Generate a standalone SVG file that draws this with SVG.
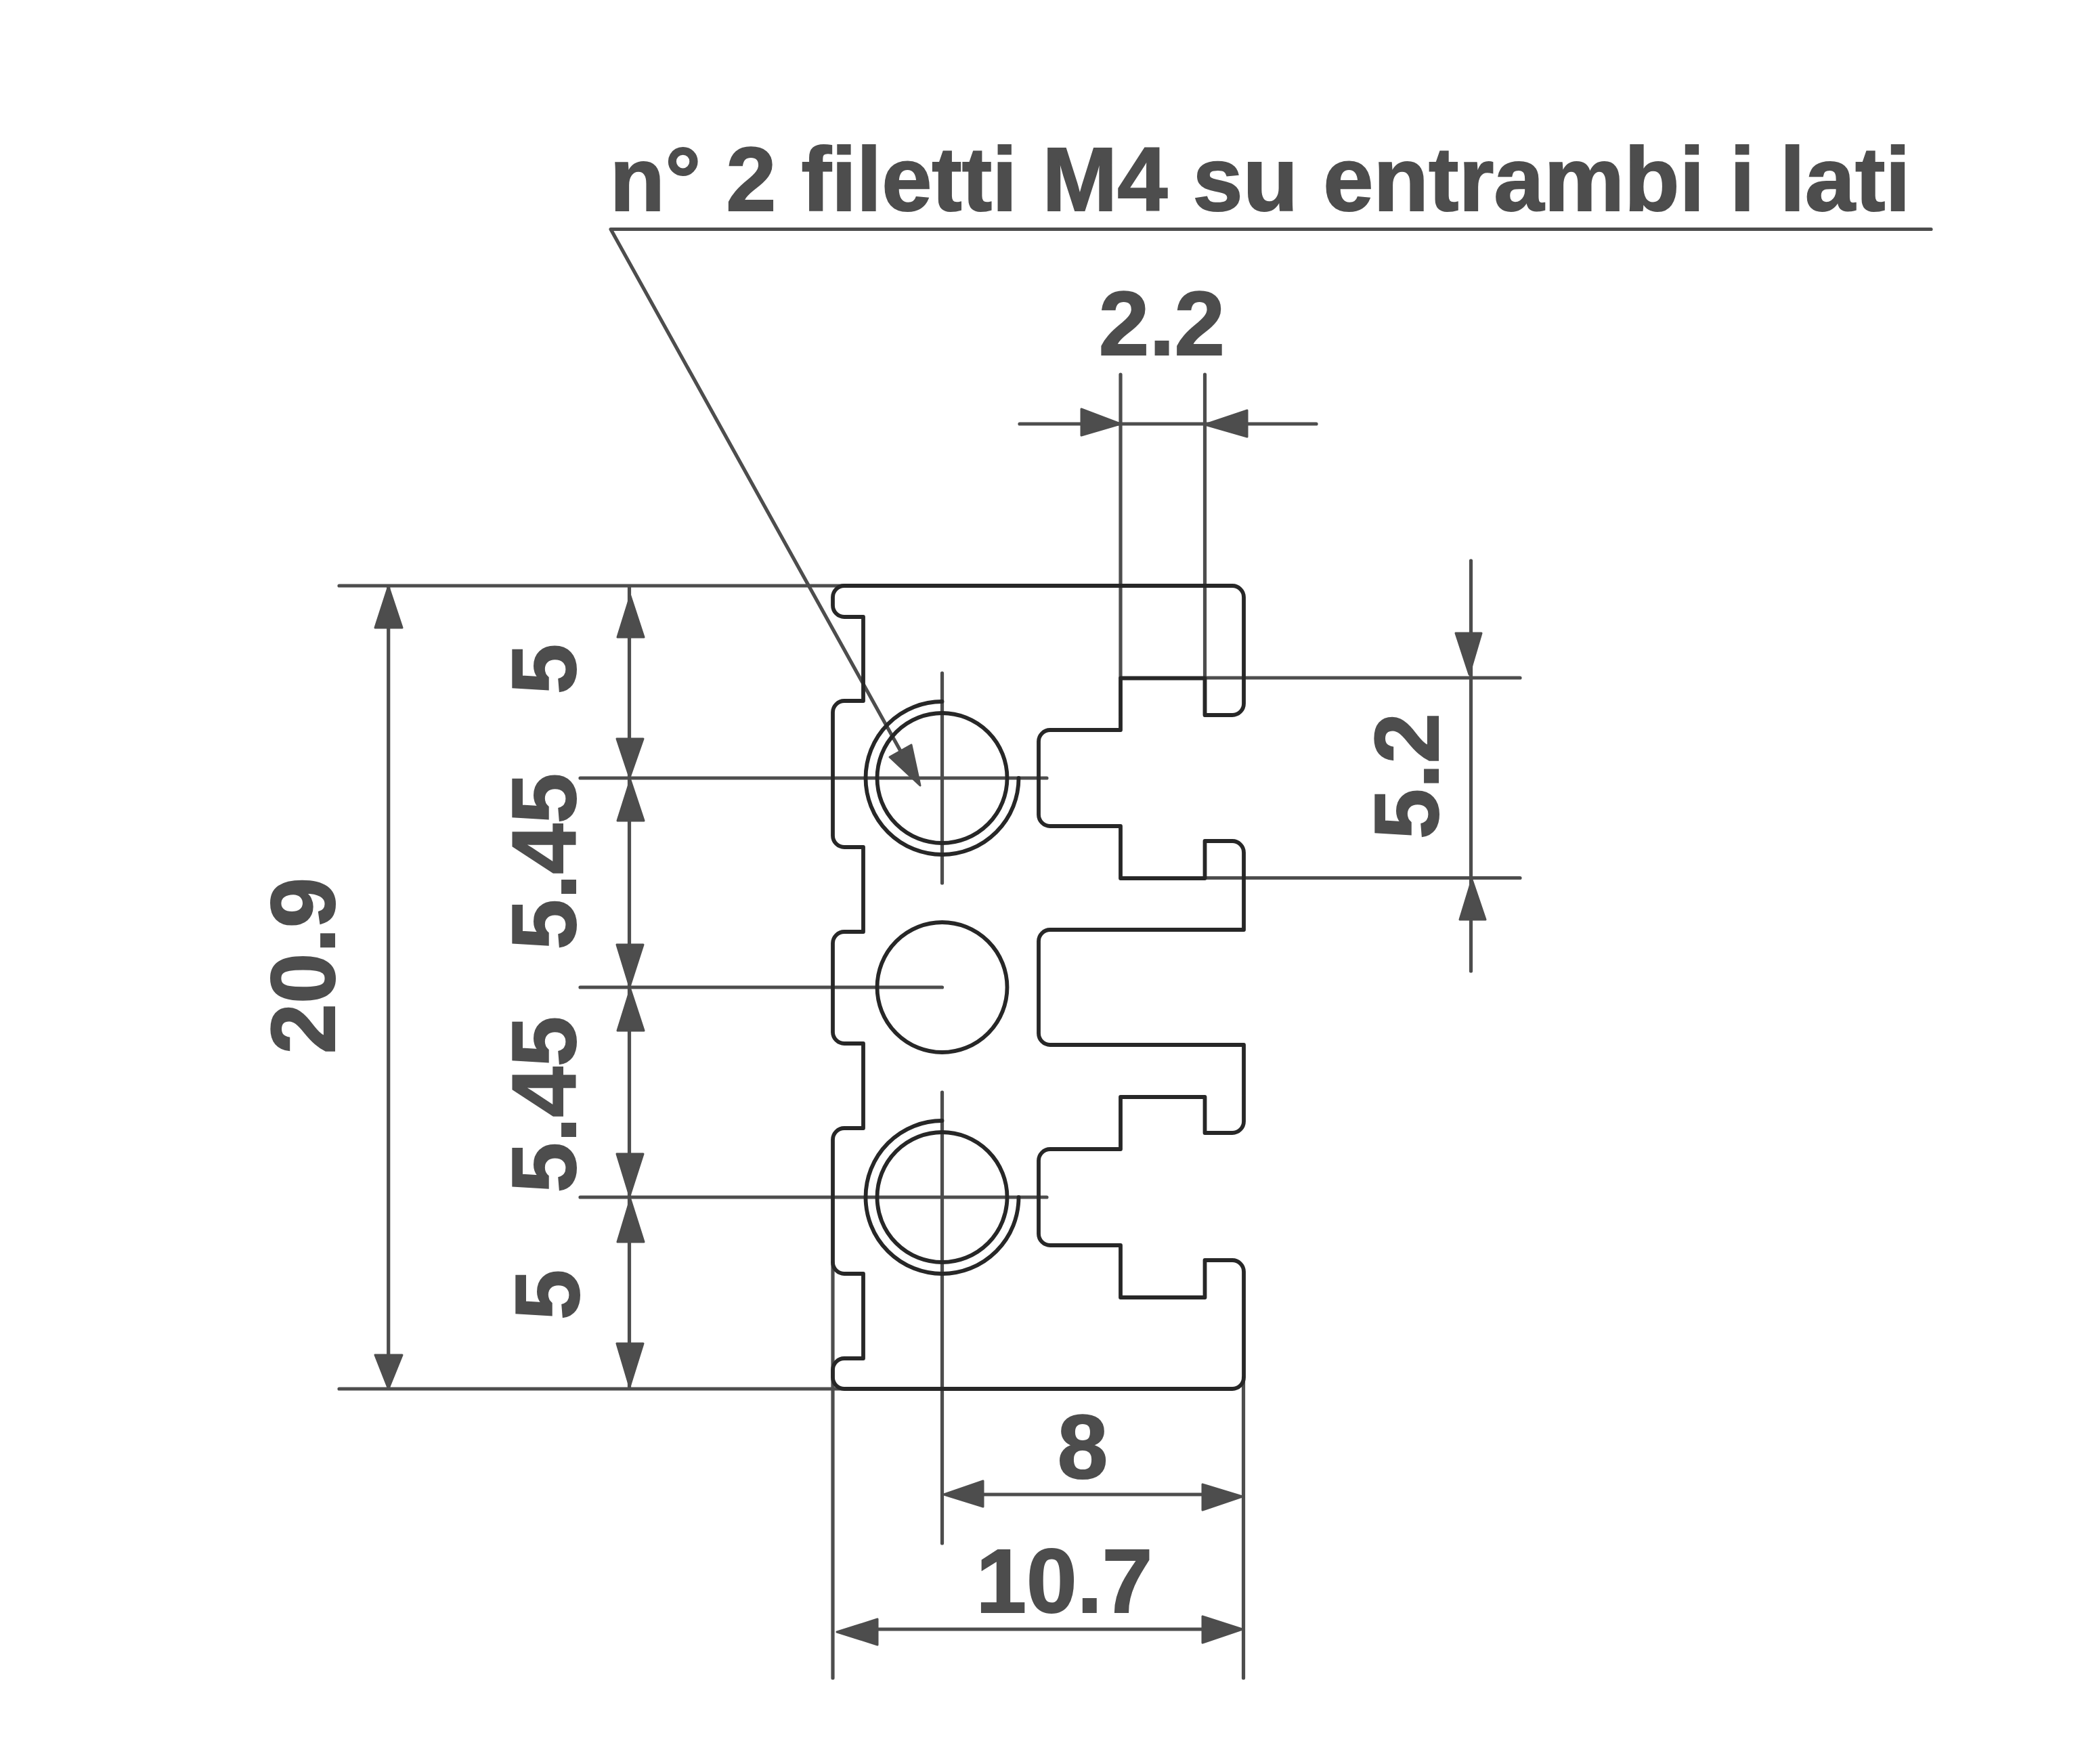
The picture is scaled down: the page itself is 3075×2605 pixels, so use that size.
<svg xmlns="http://www.w3.org/2000/svg" width="3075" height="2605" viewBox="0 0 3075 2605">
<style>
.d{fill:none;stroke:#4d4d4d;stroke-width:5.2;stroke-linecap:round;stroke-linejoin:round}
.a{fill:#4d4d4d;stroke:#4d4d4d;stroke-width:3;stroke-linejoin:round}
.p{fill:none;stroke:#272727;stroke-width:5.8;stroke-linecap:round;stroke-linejoin:round}
.t{font-family:"Liberation Sans",Arial,sans-serif;font-weight:700;font-size:134px;fill:#4d4d4d;stroke:#4d4d4d;stroke-width:2;text-anchor:middle}
</style>
<rect width="3075" height="2605" fill="#fff"/>
<g id="connectors">
<g id="leader">
<path class="d" d="M2852 338.500H902L1330 1109"/>
<polygon class="a" points="1359,1160 1346,1100 1314,1118"/>
</g>
<g id="dim-2-2">
<path class="d" d="M1655 553V1001M1779.500 553V1056M1506 626H1944"/>
<polygon class="a" points="1655,626 1597,604 1597,643"/>
<polygon class="a" points="1779.500,627 1842,606 1842,645"/>
</g>
<g id="dim-5-2">
<path class="d" d="M1780 1001H2245M1780 1296.500H2245M2172.500 828V1434"/>
<polygon class="a" points="2170,996 2150,935 2188,935"/>
<polygon class="a" points="2174,1299 2156,1358 2194,1358"/>
</g>
<g id="dim-left">
<path class="d" d="M501 865H1247M501 2051H1247M857 1149H1546M857 1458H1391.500M857 1768H1546M573.700 866V2050M929.500 866V2050"/>
<polygon class="a" points="573.700,866 554,927 594,927"/>
<polygon class="a" points="573.700,2051 554,2001 594,2001"/>
<polygon class="a" points="931,880 912,941 951,941"/>
<polygon class="a" points="930,1148 911,1091 950,1091"/>
<polygon class="a" points="931,1152 912,1212 951,1212"/>
<polygon class="a" points="930,1457 911,1395 950,1395"/>
<polygon class="a" points="931,1461 912,1522 951,1522"/>
<polygon class="a" points="930,1766 911,1704 950,1704"/>
<polygon class="a" points="931,1771 912,1834 951,1834"/>
<polygon class="a" points="930,2048 911,1984 950,1984"/>
</g>
<g id="dim-bottom">
<path class="d" d="M1391.500 994V1304M1391.500 1613V2279M1230 1864V2478M1836.500 2034V2478M1452 2207H1776M1296 2406H1776"/>
<polygon class="a" points="1394,2207 1452,2187 1452,2225"/>
<polygon class="a" points="1835,2210 1776,2192 1776,2230"/>
<polygon class="a" points="1236,2410 1296,2391 1296,2429"/>
<polygon class="a" points="1835,2406 1776,2387 1776,2426"/>
</g>
</g>
<g id="profile">
<path class="p" d="M1247 865A17 17 0 0 0 1230 882V894A17 17 0 0 0 1247 911H1275V1035H1247A17 17 0 0 0 1230 1052V1234A17 17 0 0 0 1247 1251H1275V1376H1247A17 17 0 0 0 1230 1393V1524A17 17 0 0 0 1247 1541H1275V1666H1247A17 17 0 0 0 1230 1683V1864A17 17 0 0 0 1247 1881H1275V2006H1247A17 17 0 0 0 1230 2023V2034A17 17 0 0 0 1247 2051H1820A17 17 0 0 0 1837 2034V1878A17 17 0 0 0 1820 1861H1779.500V1916H1655V1839H1551A17 17 0 0 1 1534 1822V1714A17 17 0 0 1 1551 1697H1655V1620H1779.500V1673H1820A17 17 0 0 0 1837 1656V1543H1551A17 17 0 0 1 1534 1526V1390A17 17 0 0 1 1551 1373H1837V1259A17 17 0 0 0 1820 1242H1779.500V1297H1655V1220H1551A17 17 0 0 1 1534 1203V1095A17 17 0 0 1 1551 1078H1655V1001.500H1779.500V1056H1820A17 17 0 0 0 1837 1039V882A17 17 0 0 0 1820 865Z"/>
</g>
<g id="hole-top">
<circle class="p" cx="1391.500" cy="1149" r="96"/>
<path class="p" d="M1391.500 1036A113 113 0 1 0 1504.500 1149"/>
</g>
<g id="hole-middle">
<circle class="p" cx="1391.500" cy="1458" r="96"/>
</g>
<g id="hole-bottom">
<circle class="p" cx="1391.500" cy="1768" r="96"/>
<path class="p" d="M1391.500 1655A113 113 0 1 0 1504.500 1768"/>
</g>
<g id="labels">
<text class="t" x="1861" y="311" textLength="1921" lengthAdjust="spacingAndGlyphs">n° 2 filetti M4 su entrambi i lati</text>
<text class="t" x="1716" y="524">2.2</text>
<text class="t" x="1599" y="2183">8</text>
<text class="t" x="1572" y="2381">10.7</text>
<text class="t" transform="translate(494 1426) rotate(-90)">20.9</text>
<text class="t" transform="translate(850 988) rotate(-90)">5</text>
<text class="t" transform="translate(850 1272) rotate(-90)">5.45</text>
<text class="t" transform="translate(850 1631) rotate(-90)">5.45</text>
<text class="t" transform="translate(855 1912) rotate(-90)">5</text>
<text class="t" transform="translate(2124 1146) rotate(-90)">5.2</text>
</g>
</svg>
